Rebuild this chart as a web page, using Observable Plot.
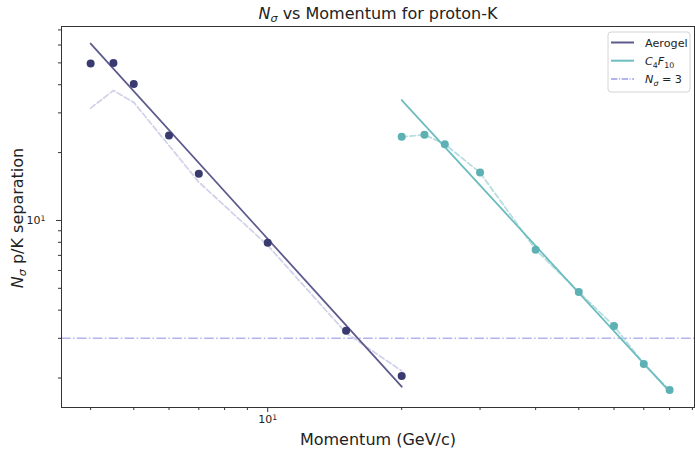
<!DOCTYPE html>
<html><head><meta charset="utf-8">
<script src="https://cdn.jsdelivr.net/npm/d3@7"></script>
<script src="https://cdn.jsdelivr.net/npm/@observablehq/plot@0.6"></script>
<style>body{margin:0;background:#fff;}</style>
</head><body><div id="chart"></div>
<script>
// ---- data ----
const aerogelP = [4, 4.5, 5, 6, 7, 10, 15, 20];
const aerogelN = [49.7, 50.0, 40.3, 23.8, 16.1, 7.97, 3.24, 2.04];
const aerogelRefN = [31.5, 37.7, 33.4, 21.5, 14.8, 7.75, 3.17, 2.15];
const aerogelFitP = [4, 20];
const aerogelFitN = [60.9, 1.83];
const c4f10P = [20, 22.5, 25, 30, 40, 50, 60, 70, 80];
const c4f10N = [23.5, 24.0, 21.8, 16.3, 7.42, 4.82, 3.40, 2.31, 1.77];
const c4f10RefN = [23.5, 24.0, 21.8, 16.3, 7.42, 4.82, 3.40, 2.31, 1.77];
const c4f10FitP = [20, 80];
const c4f10FitN = [34.2, 1.74];
const threshold = [3];
const xMinorTicks = [4, 5, 6, 7, 8, 9, 20, 30, 40, 50, 60, 70, 80, 90];
const xMajorTicks = [10];
const yMinorTicks = [2, 3, 4, 5, 6, 7, 8, 9, 20, 30, 40, 50, 60, 70];
const yMajorTicks = [10];
const majorBase = "10", majorExp = "1";

const rows = (xs, ys) => xs.map((p, i) => ({p, n: ys[i]}));
const aerogel = rows(aerogelP, aerogelN);
const aerogelRef = rows(aerogelP, aerogelRefN);
const aerogelFit = rows(aerogelFitP, aerogelFitN);
const c4f10 = rows(c4f10P, c4f10N);
const c4f10Ref = rows(c4f10P, c4f10RefN);
const c4f10Fit = rows(c4f10FitP, c4f10FitN);

const C = {
  aeroDot: "#393a70", aeroLine: "#5d5b8d", aeroRef: "#d2d2ea",
  c4Dot: "#5db0b4", c4Line: "#6dbdc0", c4Ref: "#b8dde0",
  thr: "#b3b3ee", axis: "#333"
};

const svg = Plot.plot({
  width: 695, height: 449,
  marginLeft: 61, marginRight: 1, marginTop: 26, marginBottom: 42,
  style: {fontFamily: "DejaVu Sans", fontSize: "10.5px", background: "white", overflow: "visible"},
  x: {type: "log", domain: [3.44, 91]},
  y: {type: "log", domain: [1.48, 72.5]},
  marks: [
    Plot.ruleY(threshold, {stroke: C.thr, strokeWidth: 1.5, strokeDasharray: "9.6,2.4,1.5,2.4"}),
    Plot.line(aerogelRef, {x: "p", y: "n", stroke: C.aeroRef, strokeWidth: 1.8, strokeDasharray: "5.5,2.8"}),
    Plot.line(c4f10Ref, {x: "p", y: "n", stroke: C.c4Ref, strokeWidth: 1.8, strokeDasharray: "5.5,2.8"}),
    Plot.line(aerogelFit, {x: "p", y: "n", stroke: C.aeroLine, strokeWidth: 1.8}),
    Plot.line(c4f10Fit, {x: "p", y: "n", stroke: C.c4Line, strokeWidth: 1.8}),
    Plot.dot(aerogel, {x: "p", y: "n", fill: C.aeroDot, r: 4}),
    Plot.dot(c4f10, {x: "p", y: "n", fill: C.c4Dot, r: 4}),
    Plot.frame({stroke: C.axis, strokeWidth: 1}),
    Plot.axisX(xMinorTicks, {tickSize: 3, tickFormat: () => "", label: null, stroke: C.axis}),
    Plot.axisX(xMajorTicks, {tickSize: 5, tickPadding: 3, tickFormat: () => majorBase, label: null, stroke: C.axis, fill: "#222"}),
    Plot.axisY(yMinorTicks, {tickSize: 3, tickFormat: () => "", label: null, stroke: C.axis}),
    Plot.axisY(yMajorTicks, {tickSize: 5, tickPadding: 11, tickFormat: () => majorBase, label: null, stroke: C.axis, fill: "#222"})
  ]
});

document.getElementById("chart").appendChild(svg);
const root = d3.select(svg);

// major tick labels: 10 with superscript 1
root.selectAll("text").filter(function() { return this.textContent === majorBase; })
  .each(function() {
    const t = d3.select(this);
    t.attr("font-size", 11);
    t.append("tspan").attr("dy", "-0.4em").attr("font-size", "70%").text(majorExp);
  });

// ---- rich text (subscripts / italics) ----
function rich(parent, parts, attrs) {
  const t = parent.append("text").attr("text-anchor", "start");
  for (const [k, v] of Object.entries(attrs)) t.attr(k, v);
  let shift = 0;
  for (const part of parts) {
    const s = t.append("tspan").text(part.t);
    if (part.i) s.attr("font-style", "italic");
    const want = part.sub ? 3 : 0;
    const dy = want - shift;
    if (dy !== 0) s.attr("dy", dy);
    if (part.sub) s.attr("font-size", "70%");
    shift = want;
  }
  return t;
}

const fs = 16;
rich(root, [{t: "N", i: true}, {t: "σ", i: true, sub: true}, {t: " vs Momentum for proton-K"}],
  {x: 378, y: 19, "text-anchor": "middle", "font-size": fs, fill: "#222"});
rich(root, [{t: "Momentum (GeV/c)"}],
  {x: 378, y: 445, "text-anchor": "middle", "font-size": fs, fill: "#222"});
rich(root, [{t: "N", i: true}, {t: "σ", i: true, sub: true}, {t: " p/K separation"}],
  {transform: "translate(23,218) rotate(-90)", "text-anchor": "middle", "font-size": fs, fill: "#222"});

// ---- legend ----
const lg = root.append("g");
lg.append("rect").attr("x", 608).attr("y", 32).attr("width", 82).attr("height", 60)
  .attr("rx", 3).attr("fill", "white").attr("fill-opacity", 0.85).attr("stroke", "#d4d4d4");
const entries = [
  {c: C.aeroLine, dash: null, parts: [{t: "Aerogel"}]},
  {c: C.c4Line, dash: null, parts: [{t: "C", i: true}, {t: "4", sub: true}, {t: "F", i: true}, {t: "10", sub: true}]},
  {c: C.thr, dash: "6.4,1.6,1,1.6", parts: [{t: "N", i: true}, {t: "σ", i: true, sub: true}, {t: " = 3"}]}
];
entries.forEach((e, k) => {
  const y = 42.5 + k * 18.2;
  const ln = lg.append("line").attr("x1", 611).attr("x2", 634).attr("y1", y).attr("y2", y)
    .attr("stroke", e.c).attr("stroke-width", 2);
  if (e.dash) ln.attr("stroke-dasharray", e.dash);
  rich(lg, e.parts, {x: 645, y: y + 4, "font-size": 11.2, fill: "#222"});
});
</script></body></html>
